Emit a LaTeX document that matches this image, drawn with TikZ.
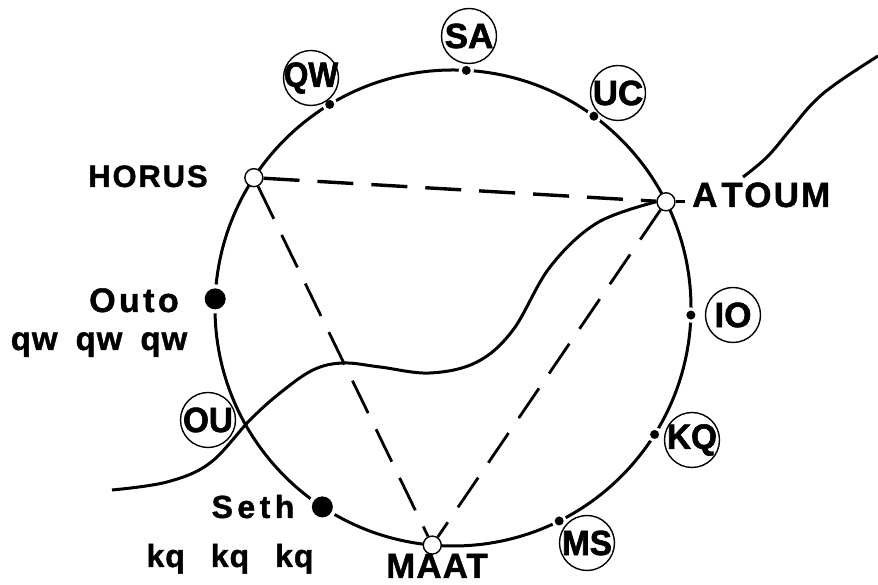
\documentclass[tikz,border=0pt]{standalone}
\usepackage{fontspec}
\setmainfont{Liberation Sans Bold}[FakeBold=1.2]
\newfontfamily\spA{Liberation Sans Bold}[LetterSpace=6, FakeBold=1.2]
\newfontfamily\spB{Liberation Sans Bold}[LetterSpace=10, FakeBold=1.2]
\newfontfamily\spC{Liberation Sans Bold}[LetterSpace=14, FakeBold=1.2]
\newfontfamily\spD{Liberation Sans Bold}[LetterSpace=3, FakeBold=1.2]
\newfontfamily\ringfont{Liberation Sans Bold}[FakeBold=1.8]
\usetikzlibrary{calc}
\begin{document}
\begin{tikzpicture}[x=1pt,y=1pt,
  thick line/.style={line width=3pt},
  ring/.style={circle, draw, line width=1.4pt, minimum size=55pt, inner sep=0pt,
    font=\fontsize{35}{35}\selectfont\ringfont},
  sdot/.style={circle, fill=black, inner sep=0pt, minimum size=9pt,
    preaction={draw=white, line width=6pt}},
  bdot/.style={circle, fill=black, inner sep=0pt, minimum size=21pt,
    preaction={draw=white, line width=8pt}},
  odot/.style={circle, draw, fill=white, line width=1.4pt, inner sep=0pt, minimum size=18pt},
  dline/.style={line width=2.8pt, dash pattern=on 36pt off 18pt},
  lab/.style={inner sep=0pt, anchor=base}
]
\useasboundingbox (0,0) rectangle (878,585);
\coordinate (O) at (453,277);
\draw[thick line] (O) circle [radius=238pt];

% points on the circle
\node[odot] (HORUS) at ($(O)+(146.8:238pt)$) {};
\node[odot] (ATOUM) at ($(O)+(26.5:238pt)$) {};
\node[odot] (MAAT)  at ($(O)+(265:238pt)$) {};
\node[sdot] (QWd) at ($(O)+(121.2:238pt)$) {};
\node[sdot] (SAd) at ($(O)+(86.8:238pt)$) {};
\node[sdot] (UCd) at ($(O)+(53.7:238pt)$) {};
\node[sdot] (IOd) at ($(O)+(-1.7:238pt)$) {};
\node[sdot] (KQd) at ($(O)+(-32.1:238pt)$) {};
\node[sdot] (MSd) at ($(O)+(-63.5:238pt)$) {};
\node[bdot] (OUTOd) at ($(O)+(177.8:238pt)$) {};
\node[bdot] (SETHd) at ($(O)+(236.7:238pt)$) {};

% circled labels
\node[ring] (QW) at (311,507) {\makebox[0pt]{\scalebox{0.9}[1]{QW}}};
\node[ring] (SA) at (469,549) {\makebox[0pt]{SA}};
\node[ring] (UC) at (618,492) {\makebox[0pt]{UC}};
\node[ring] (IO) at (733,270) {\makebox[0pt]{IO}};
\node[ring] (KQ) at (692,145) {\makebox[0pt]{\scalebox{0.95}[1]{KQ}}};
\node[ring] (MS) at (587,42)  {\makebox[0pt]{\scalebox{0.95}[1]{MS}}};
\node[ring] (OU) at (208,165) {\makebox[0pt]{\scalebox{0.95}[1]{OU}}};

% text labels
\node[lab] (tHORUS) at (148,398) {\fontsize{31}{31}\selectfont\spA HORUS};
\node[lab, anchor=base west] (tATOUM) at (692,378) {\fontsize{35}{35}\selectfont\spA A\hspace{4pt}TOUM};
\node[lab] (tOUTO) at (134,273) {\fontsize{34}{34}\selectfont\spB Outo};
\node[lab] (tQW) at (99,235) {\fontsize{33}{33}\selectfont\spD qw\hspace{18pt}qw\hspace{18pt}qw};
\node[lab] (tSETH) at (253,67) {\fontsize{32}{32}\selectfont\spC Seth};
\node[lab] (tKQ) at (230,18) {\fontsize{32}{32}\selectfont\spD kq\hspace{26pt}kq\hspace{26pt}kq};
\node[lab] (tMAAT) at (437,7) {\fontsize{35}{35}\selectfont\spD MAAT};

% wavy line
\draw[thick line] plot[smooth, tension=0.6] coordinates {(112,95) (167,103) (210,122) (250,165) (280,192) (313,215) (343,222) (380,218) (430,212) (477,223) (513,255) (550,318) (597,362) (ATOUM.west)};
\draw[thick line] (ATOUM.east) -- ++(9pt,0);
\draw[thick line] plot[smooth, tension=0.7] coordinates {(743,408) (767,428) (790,455) (813,482) (837,502) (878,529)};

% dashed triangle
\draw[dline, line width=3.4pt] (HORUS) -- (ATOUM);
\draw[dline] (HORUS) -- (MAAT);
\draw[dline] (ATOUM) -- (MAAT);
\end{tikzpicture}
\end{document}
